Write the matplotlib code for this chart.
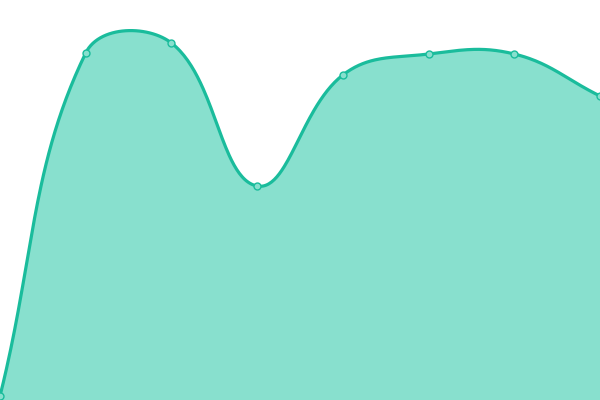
import numpy as np
import matplotlib
matplotlib.use("Agg")
import matplotlib.pyplot as plt

labels = ["1", "2", "3", "4", "5", "6", "7", "8"]
values = [4, 347, 357, 214, 325, 346, 346, 304]

W, H = 600, 400
n = len(values)
xs = np.array([i * W / (n - 1) for i in range(n)], dtype=float)
ys = np.array(values, dtype=float)

# Chart.js-like spline (tension 0.4)
t = 0.4
curve_x, curve_y = [], []
cps = []
for i in range(n):
    p0 = (xs[max(i - 1, 0)], ys[max(i - 1, 0)])
    p1 = (xs[i], ys[i])
    p2 = (xs[min(i + 1, n - 1)], ys[min(i + 1, n - 1)])
    d01 = np.hypot(p1[0] - p0[0], p1[1] - p0[1])
    d12 = np.hypot(p2[0] - p1[0], p2[1] - p1[1])
    s01 = d01 / (d01 + d12) if d01 + d12 else 0
    s12 = d12 / (d01 + d12) if d01 + d12 else 0
    fa, fb = t * s01, t * s12
    prev = (p1[0] - fa * (p2[0] - p0[0]), p1[1] - fa * (p2[1] - p0[1]))
    nxt = (p1[0] + fb * (p2[0] - p0[0]), p1[1] + fb * (p2[1] - p0[1]))
    cps.append((prev, nxt))

u = np.linspace(0, 1, 60)
for i in range(n - 1):
    P0 = np.array([xs[i], ys[i]])
    P1 = np.array(cps[i][1])
    P2 = np.array(cps[i + 1][0])
    P3 = np.array([xs[i + 1], ys[i + 1]])
    seg = ((1 - u) ** 3)[:, None] * P0 + (3 * (1 - u) ** 2 * u)[:, None] * P1 \
        + (3 * (1 - u) * u ** 2)[:, None] * P2 + (u ** 3)[:, None] * P3
    curve_x.extend(seg[:, 0])
    curve_y.extend(seg[:, 1])

color = "#1abc9c"
fig = plt.figure(figsize=(6, 4), dpi=100)
ax = fig.add_axes([0, 0, 1, 1])
ax.fill_between(curve_x, 0, curve_y, color="#88e0ce", linewidth=0)
ax.plot(curve_x, curve_y, color=color, linewidth=2.3, clip_on=False, solid_capstyle="round")
ax.plot(xs, ys, "o", markersize=5, markerfacecolor="#88e0ce", markeredgecolor=color,
        markeredgewidth=1, clip_on=False, linestyle="none")
ax.set_xlim(0, W)
ax.set_ylim(0, H)
ax.axis("off")
fig.savefig("out.png", dpi=100)
